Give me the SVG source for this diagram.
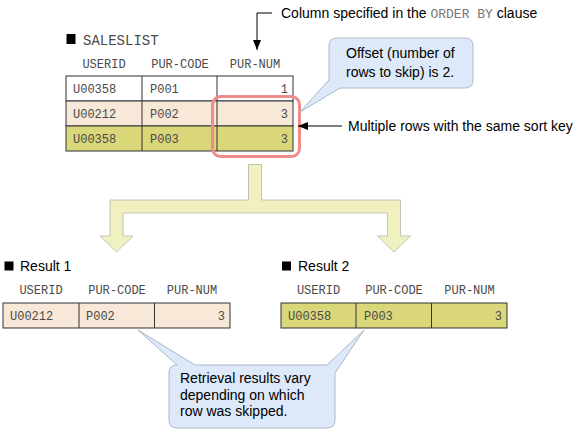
<svg xmlns="http://www.w3.org/2000/svg" width="580" height="432" viewBox="0 0 580 432">
<style>
.sans{font-family:"Liberation Sans",Arial,sans-serif;font-size:14px;fill:#000}
.mono{font-family:"Liberation Mono","Courier New",monospace;font-size:12px;fill:#4a4a4a}
.hd{text-anchor:middle}
.num{text-anchor:end}
.cell{stroke:#333;stroke-width:1}
.callout{fill:#dde9f8;stroke:#a9b9c9;stroke-width:1}
.bigarrow{fill:#f0f0c0;stroke:#c4c4b4;stroke-width:1}
</style>
<defs>
<marker id="ah" markerWidth="10" markerHeight="8" refX="10" refY="4" orient="auto" markerUnits="userSpaceOnUse">
<path d="M0,0 L10,4 L0,8 Z" fill="#000"/>
</marker>
</defs>

<g id="saleslist">
<rect x="66.5" y="34" width="9" height="10" fill="#000"/>
<text x="83" y="45" class="mono" style="font-size:14px">SALESLIST</text>
<text x="104" y="68" class="mono hd">USERID</text>
<text x="180" y="68" class="mono hd">PUR-CODE</text>
<text x="255" y="68" class="mono hd">PUR-NUM</text>
<rect x="66" y="76" width="227" height="25" fill="#fff" class="cell"/>
<rect x="66" y="101" width="227" height="25" fill="#f7e8d8" class="cell"/>
<rect x="66" y="126" width="227" height="25" fill="#d9d77a" class="cell"/>
<line x1="142" y1="76" x2="142" y2="151" class="cell"/>
<line x1="217" y1="76" x2="217" y2="151" class="cell"/>
<text x="73" y="93" class="mono">U00358</text>
<text x="150" y="93" class="mono">P001</text>
<text x="288" y="93" class="mono num">1</text>
<text x="73" y="118" class="mono">U00212</text>
<text x="150" y="118" class="mono">P002</text>
<text x="288" y="118" class="mono num">3</text>
<text x="73" y="143" class="mono">U00358</text>
<text x="150" y="143" class="mono">P003</text>
<text x="288" y="143" class="mono num">3</text>
<rect x="212.5" y="96.5" width="87" height="60" rx="8" fill="none" stroke="#f08c8c" stroke-width="3"/>
</g>

<g id="offset-callout">
<path d="M337,38 H465 Q473,38 473,46 V80 Q473,88 465,88 H340 L300,112 L329,80 V46 Q329,38 337,38 Z" class="callout"/>
<text x="346" y="58" class="sans">Offset (number of</text>
<text x="346" y="77" class="sans">rows to skip) is 2.</text>
</g>

<g id="column-label">
<text x="281" y="18" class="sans">Column specified in the <tspan class="mono" style="fill:#777;font-size:13px">ORDER BY</tspan> clause</text>
</g>

<g id="same-key-label">
<text x="348" y="131" class="sans">Multiple rows with the same sort key</text>
</g>

<g id="connectors">
<polyline points="272,13 257,13 257,50" fill="none" stroke="#000" stroke-width="1" marker-end="url(#ah)"/>
<line x1="342" y1="126" x2="298" y2="126" stroke="#000" stroke-width="1" marker-end="url(#ah)"/>
<path d="M248.5,164.5 H261.5 V200 H400.5 V236 H410.5 L394,252 L377.5,236 H387.5 V213 H123 V236 H133 L116.5,252 L100,236 H110 V200 H248.5 Z" class="bigarrow"/>
</g>

<g id="result1">
<rect x="4.5" y="261.5" width="9" height="9" fill="#000"/>
<text x="20" y="271" class="sans">Result 1</text>
<text x="41" y="294" class="mono hd">USERID</text>
<text x="117" y="294" class="mono hd">PUR-CODE</text>
<text x="192" y="294" class="mono hd">PUR-NUM</text>
<rect x="3" y="303" width="227" height="25" fill="#f7e8d8" class="cell"/>
<line x1="79" y1="303" x2="79" y2="328" class="cell"/>
<line x1="154.5" y1="303" x2="154.5" y2="328" class="cell"/>
<text x="10" y="320" class="mono">U00212</text>
<text x="86" y="320" class="mono">P002</text>
<text x="225" y="320" class="mono num">3</text>
</g>

<g id="result2">
<rect x="282" y="261.5" width="9" height="9" fill="#000"/>
<text x="298" y="271" class="sans">Result 2</text>
<text x="318.5" y="294" class="mono hd">USERID</text>
<text x="394" y="294" class="mono hd">PUR-CODE</text>
<text x="469.5" y="294" class="mono hd">PUR-NUM</text>
<rect x="281" y="303" width="226" height="25" fill="#d9d77a" class="cell"/>
<line x1="356" y1="303" x2="356" y2="328" class="cell"/>
<line x1="431.5" y1="303" x2="431.5" y2="328" class="cell"/>
<text x="288" y="320" class="mono">U00358</text>
<text x="364" y="320" class="mono">P003</text>
<text x="502" y="320" class="mono num">3</text>
</g>

<g id="result-callout">
<path d="M177,365 L138,330 L195,365 H327 L364,330 L335,373 V420 Q335,428 327,428 H177 Q169,428 169,420 V373 Q169,365 177,365 Z" class="callout"/>
<text x="180" y="383" class="sans">Retrieval results vary</text>
<text x="180" y="399.5" class="sans">depending on which</text>
<text x="180" y="416" class="sans">row was skipped.</text>
</g>
</svg>
